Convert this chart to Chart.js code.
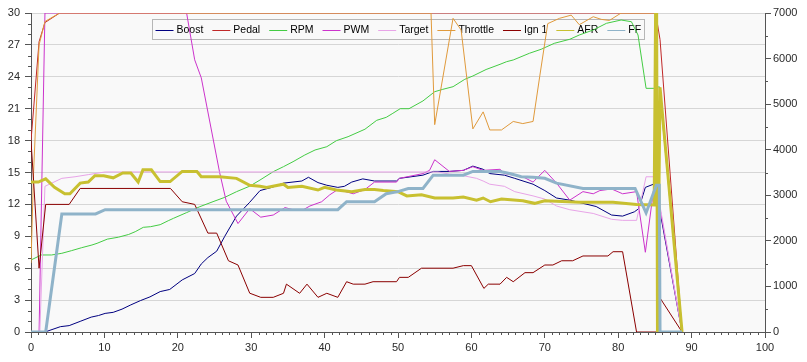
<!DOCTYPE html>
<html>
<head>
<meta charset="utf-8">
<script src="https://cdn.jsdelivr.net/npm/chart.js@4.4.1/dist/chart.umd.min.js"></script>
<style>
  html, body { margin: 0; padding: 0; background: #ffffff; }
  #wrap { width: 807px; height: 362px; }
</style>
</head>
<body>
<div id="wrap"><canvas id="c" width="807" height="362"></canvas></div>
<script>
// ---- tick labels / axes ----
const xTicks = [0, 10, 20, 30, 40, 50, 60, 70, 80, 90, 100];
const yTicks = [0, 3, 6, 9, 12, 15, 18, 21, 24, 27, 30];
const rpmTicks = [0, 1000, 2000, 3000, 4000, 5000, 6000, 7000];
const seriesNames = ['Boost', 'Pedal', 'RPM', 'PWM', 'Target', 'Throttle', 'Ign 1', 'AFR', 'FF'];

// ---- series values: [time, value] ----
const boost = [[0,0],[1.9,0],[4,0.5],[5.2,0.6],[6.7,1.0],[8.2,1.4],[9.2,1.55],[10.1,1.75],[11.2,1.85],[12.4,2.15],[13.6,2.55],[14.9,2.95],[16.2,3.3],[17.6,3.8],[18.9,4.0],[20.6,4.9],[22.3,5.5],[23.2,6.4],[24.1,7.0],[25.3,7.6],[26.4,9.0],[28,10.9],[29.8,12.2],[31.2,13.3],[32.8,13.6],[34.4,14.0],[36.9,14.2],[37.8,14.55],[39.1,14.05],[40.3,13.8],[41.8,13.6],[42.7,13.7],[43.7,14.1],[45.2,14.4],[46.8,14.2],[49.8,14.2],[50.2,14.45],[53.4,14.75],[54.8,15.1],[57,15.1],[58.9,15.2],[60.2,15.6],[61.6,15.3],[62.5,14.9],[64.5,14.75],[65.9,14.45],[68.4,13.9],[70,13.3],[71.6,12.6],[73.4,12.4],[75.2,12.1],[77,11.8],[79.1,11.0],[80.6,10.9],[82.2,11.3],[82.8,11.6],[83.7,13.6],[85,13.95],[88.7,0]];
const pedal = [[0,18],[1.1,27.3],[1.9,29.1],[3.9,30],[85.1,30],[85.7,27.5],[88.7,0]];
const rpm = [[0,1580],[1.4,1690],[2.8,1690],[4.2,1727],[5.5,1784],[6.9,1850],[8.3,1909],[9.0,1946],[10.4,2038],[11.9,2080],[13.3,2140],[14.2,2201],[15.3,2297],[16.3,2311],[17.6,2355],[18.7,2442],[19.4,2494],[21.2,2620],[23,2750],[24.8,2860],[26.4,2955],[28,3079],[29.8,3200],[31.2,3335],[33,3518],[34.4,3628],[35.7,3737],[37.3,3884],[38.7,3994],[40.3,4066],[41.6,4198],[43.2,4286],[45.5,4450],[47.1,4645],[48.4,4711],[49.3,4799],[50.3,4900],[51.5,4900],[53.4,5070],[55,5273],[56.1,5325],[57.5,5383],[59.1,5545],[60.2,5618],[62,5760],[63.9,5874],[64.8,5932],[65.7,5969],[67.9,6116],[69.5,6204],[71.3,6335],[73.4,6423],[74.7,6517],[76.6,6627],[78.4,6774],[80.4,6846],[81.8,6809],[82.7,6517],[83.8,5347],[85,5347],[85.6,5383],[88.7,0]];
const pwm = [[0,0],[1.1,0],[1.9,30],[21.2,30],[22.3,25.6],[23.2,23.9],[25.7,15.0],[26.6,12.3],[28.2,10.2],[29.8,11.6],[31.3,10.8],[33,11.0],[34.6,11.7],[35.7,11.5],[37.1,11.5],[38,11.85],[39.6,12.25],[40.7,12.9],[41.8,13.4],[43.9,13.0],[45.5,13.4],[46.8,14.1],[49.8,14.1],[50.2,14.45],[53.4,14.9],[54.3,15.2],[55,16.2],[57,15.1],[58.9,15.2],[60.2,15.55],[61.6,15.2],[63.9,15.3],[64.5,14.9],[67,14.6],[68.4,14.1],[70,15.2],[71.6,14.0],[73.4,12.4],[75.2,13.2],[76.6,13.0],[77.5,13.3],[79.1,13.45],[80.6,13.0],[82.5,13.2],[83.7,7.5],[85,14.3],[88.7,0]];
const target = [[0,0],[1.2,0],[1.9,13.7],[4.2,14.45],[6,14.6],[7.8,14.8],[10.1,15.05],[55.5,15.05],[57,14.85],[58.9,14.7],[60.7,14.45],[61.6,14.2],[62.5,13.9],[64.5,13.7],[65.9,13.2],[68.4,12.8],[70,12.5],[71.6,11.85],[73.4,11.5],[75.2,11.3],[76.6,11.15],[79.1,10.6],[80.6,10.5],[82.5,10.5],[83.8,14.6],[85,14.6],[88.7,0]];
const throttle = [[0,6.5],[0.35,15],[1.1,27],[1.9,29.2],[3.9,30],[54.5,30],[55.0,19.5],[57.5,29.5],[58.6,28.4],[60.2,19.1],[61.6,20.7],[62.5,19.0],[64.1,19.0],[65.7,19.8],[67,19.6],[68.4,19.8],[69.3,24],[70.4,29.0],[72,29.5],[73.6,29.8],[74.7,28.9],[76.6,29.65],[77.7,29.4],[78.8,29.3],[80.4,30],[85.1,30],[85.3,0],[85.7,23],[88.7,0]];
const ign1 = [[0,18],[1.1,6],[2,12],[5.2,12],[6.7,13.5],[19,13.5],[20.6,12.25],[22.3,12.0],[24.1,9.3],[25.3,9.3],[26.9,6.7],[28.2,6.3],[29.8,3.65],[31.3,3.26],[33,3.26],[34.4,3.64],[34.8,4.5],[36.6,3.64],[37.6,4.5],[39.1,3.26],[40.3,3.64],[41.8,3.26],[43,4.73],[43.9,4.5],[45.5,4.5],[46.6,4.73],[49.8,4.73],[50.2,5.14],[51.4,5.14],[53.2,6.0],[57.5,6.0],[58.9,6.24],[60,6.24],[61.7,4.1],[62.3,4.5],[63.9,4.5],[64.8,5.14],[65.7,4.73],[67.3,5.58],[68.4,5.58],[70,6.3],[71.1,6.3],[72.3,6.7],[73.8,6.7],[75.2,7.15],[78.6,7.15],[79.3,7.55],[80.6,7.55],[82.5,0],[85.3,0],[85.7,3.2],[88.7,0]];
const afr = [[0,14.1],[1,14.1],[2,14.4],[3.2,13.6],[4.6,13.0],[5.3,13.0],[6.7,14.0],[7.8,14.1],[8.7,14.7],[9.9,14.7],[11.2,14.5],[12.5,14.95],[13.6,14.95],[14.6,14.1],[15.25,15.25],[16.4,15.25],[17.6,14.15],[18.95,14.15],[20.6,15.1],[22.6,15.1],[23.2,14.6],[25.7,14.6],[28,14.45],[29.8,13.8],[31.2,13.7],[32.1,13.6],[34.4,13.9],[35,13.6],[36.9,13.7],[39.1,13.35],[40,13.6],[41.6,13.35],[43.7,13.2],[45.5,13.4],[46.8,13.4],[48,13.3],[50,13.2],[51.2,12.8],[53.2,12.9],[55,12.6],[57.5,12.6],[58.9,12.7],[60.7,12.4],[61.6,12.6],[62.6,12.25],[64.1,12.5],[67,12.35],[68.6,12.1],[70,12.35],[74.7,12.2],[79.3,12.2],[82.5,12.0],[84.9,11.95],[85.2,40],[85.35,0],[85.7,23],[88.7,0]];
const ff = [[0,0],[2,0],[4.2,11.1],[8.8,11.1],[10.1,11.5],[41.8,11.5],[43,12.25],[46.8,12.25],[48.4,13.0],[50,13.2],[51.4,13.5],[53.4,13.5],[54.8,14.75],[58.9,14.75],[60.2,15.1],[63.9,15.1],[65.2,14.9],[66.8,14.6],[68.4,14.55],[70,14.45],[71.6,14.0],[75.2,13.5],[82.3,13.5],[83.8,11.2],[85.2,13.8],[85.6,13.8],[85.7,0],[88.7,0]];

const seriesData = [boost, pedal, rpm, pwm, target, throttle, ign1, afr, ff];
const seriesColors = ['#000080', '#c02828', '#44cc44', '#cc33cc', '#e8a4e8', '#e09a3c', '#8b0000', '#c8c030', '#8fb3c9'];
const seriesWidths = [1, 1, 1, 1, 1, 1, 1, 3, 3];
const seriesAxis = ['y', 'y', 'y1', 'y', 'y', 'y', 'y', 'y', 'y'];

const AXIS = '#555555';
const GRID = '#d6d6d6';
const TXT = '#2a2a2a';
const FONT = { family: '"Liberation Sans", Arial, sans-serif', size: 11 };

const datasets = seriesNames.map((name, i) => ({
  label: name,
  data: seriesData[i].map(p => ({ x: p[0], y: p[1] })),
  borderColor: seriesColors[i],
  backgroundColor: seriesColors[i],
  borderWidth: seriesWidths[i],
  yAxisID: seriesAxis[i],
  pointRadius: 0,
  tension: 0,
  fill: false,
  order: seriesNames.length - i
}));

const bgPlugin = {
  id: 'bg',
  beforeDraw(chart) {
    const { ctx, chartArea: a } = chart;
    ctx.save();
    ctx.fillStyle = '#ffffff';
    ctx.fillRect(0, 0, chart.width, chart.height);
    ctx.fillStyle = '#f9f9f9';
    ctx.fillRect(a.left, a.top, a.right - a.left, a.bottom - a.top);
    ctx.restore();
  }
};

const minorTicks = {
  id: 'minorTicks',
  beforeDatasetsDraw(chart) {
    const ctx = chart.ctx;
    const xs = chart.scales.x, yl = chart.scales.y, yr = chart.scales.y1;
    ctx.save();
    ctx.strokeStyle = AXIS;
    ctx.lineWidth = 1;
    ctx.beginPath();
    for (let v = 0; v <= 100; v++) {
      if (v % 10 === 0) continue;
      const px = Math.round(xs.getPixelForValue(v)) + 0.5;
      ctx.moveTo(px, xs.top); ctx.lineTo(px, xs.top + 3);
    }
    for (let v = 0; v <= 30; v++) {
      if (v % 3 === 0) continue;
      const py = Math.round(yl.getPixelForValue(v)) + 0.5;
      ctx.moveTo(yl.right - 3, py); ctx.lineTo(yl.right, py);
    }
    for (let v = 0; v <= 7000; v += 500) {
      if (v % 1000 === 0) continue;
      const py = Math.round(yr.getPixelForValue(v)) + 0.5;
      ctx.moveTo(yr.left, py); ctx.lineTo(yr.left + 3, py);
    }
    ctx.stroke();
    ctx.restore();
  }
};

const boxLegend = {
  id: 'boxLegend',
  beforeDatasetsDraw(chart) {
    const ctx = chart.ctx, a = chart.chartArea;
    ctx.save();
    ctx.font = '10.5px "Liberation Sans", Arial, sans-serif';
    const items = chart.data.datasets.map(d => ({ label: d.label, color: d.borderColor, w: ctx.measureText(d.label).width }));
    const L = 18, A = 3, B = 9, padX = 3, h = 20;
    const total = padX * 2 + items.reduce((s, it) => s + L + A + it.w, 0) + B * (items.length - 1);
    const x0 = Math.round((a.left + a.right) / 2 - total / 2) + 0.5;
    const y0 = a.top + 6 + 0.5;
    ctx.strokeStyle = '#b6b6b6';
    ctx.lineWidth = 1;
    ctx.strokeRect(x0, y0, Math.round(total), h);
    let x = x0 + padX;
    const cy = Math.round(y0 + h / 2) + 0.5;
    ctx.textBaseline = 'middle';
    items.forEach(it => {
      ctx.strokeStyle = it.color;
      ctx.beginPath();
      ctx.moveTo(x, cy); ctx.lineTo(x + L, cy);
      ctx.stroke();
      ctx.fillStyle = '#000000';
      ctx.fillText(it.label, x + L + A, cy);
      x += L + A + it.w + B;
    });
    ctx.restore();
  }
};

const plainLabel = v => String(v);

new Chart(document.getElementById('c'), {
  type: 'line',
  data: { datasets },
  options: {
    responsive: false,
    animation: false,
    devicePixelRatio: 1,
    parsing: true,
    layout: { padding: { top: 13, left: 0, right: 0, bottom: 0 } },
    plugins: { legend: { display: false }, tooltip: { enabled: false } },
    scales: {
      x: {
        type: 'linear', min: 0, max: 100,
        afterBuildTicks: s => { s.ticks = xTicks.map(v => ({ value: v })); },
        ticks: { color: TXT, font: FONT, padding: 3, maxRotation: 0, autoSkip: false, callback: plainLabel },
        grid: { drawOnChartArea: false, color: AXIS, tickLength: 6 },
        border: { color: AXIS },
        afterFit: s => { s.height = 30; }
      },
      y: {
        type: 'linear', position: 'left', min: 0, max: 30,
        afterBuildTicks: s => { s.ticks = yTicks.map(v => ({ value: v })); },
        ticks: { color: TXT, font: FONT, padding: 5, autoSkip: false, callback: plainLabel },
        grid: { color: GRID, tickColor: AXIS, tickLength: 6 },
        border: { color: AXIS },
        afterFit: s => { s.width = 31; }
      },
      y1: {
        type: 'linear', position: 'right', min: 0, max: 7000,
        afterBuildTicks: s => { s.ticks = rpmTicks.map(v => ({ value: v })); },
        ticks: { color: TXT, font: FONT, padding: 2, autoSkip: false, callback: plainLabel },
        grid: { drawOnChartArea: false, color: AXIS, tickLength: 6 },
        border: { color: AXIS },
        afterFit: s => { s.width = 42; }
      }
    }
  },
  plugins: [bgPlugin, minorTicks, boxLegend]
});
</script>
</body>
</html>
